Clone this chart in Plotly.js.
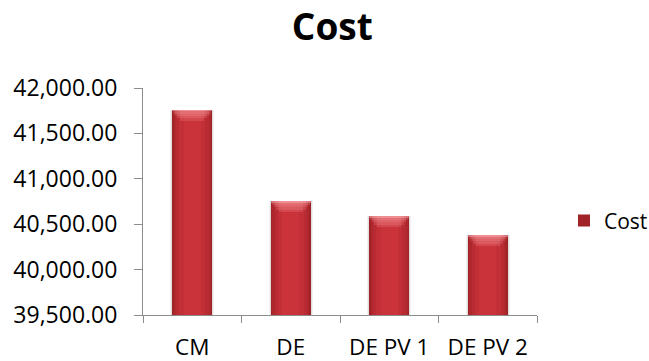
<!DOCTYPE html>
<html>
<head>
<meta charset="utf-8">
<script src="https://cdn.plot.ly/plotly-3.0.1.min.js"></script>
<style>
  html, body { margin: 0; padding: 0; background: #ffffff; }
  #chart { width: 649px; height: 361px; }
</style>
</head>
<body>
<div id="chart"></div>
<script>
// Cost per scenario
const categories = ['CM', 'DE', 'DE PV 1', 'DE PV 2'];
const costValues = [41760, 40755, 40590, 40380];
const seriesName = 'Cost';
const yTickValues = [39500, 40000, 40500, 41000, 41500, 42000];

function barLayer(width, color, opts) {
  return Object.assign({
    type: 'bar',
    x: categories,
    y: costValues,
    width: width,
    showlegend: false,
    marker: { color: color, line: { width: 0 } },
    hoverinfo: 'skip'
  }, opts || {});
}

const traces = [];

// Soft shadow around each column
traces.push(barLayer(0.45, 'rgba(0,0,0,0.06)'));
traces.push(barLayer(0.43, 'rgba(0,0,0,0.07)'));

// Cylinder-style shading: narrowing layers, dark edges to brighter core
const shadeWidths = [0.41, 0.38, 0.33, 0.26, 0.17];
const shadeColors = ['#A02328', '#AD272D', '#B92B32', '#C32F36', '#CB333A'];
shadeWidths.forEach((w, i) => {
  traces.push(barLayer(w, shadeColors[i], i === 0 ? { name: seriesName, showlegend: true } : {}));
});

// Glossy cap: translucent strips that narrow with depth below the top
const capLayers = [
  { depth: 120, width: 0.24, color: 'rgba(240,140,145,0.25)' },
  { depth: 95, width: 0.30, color: 'rgba(240,140,145,0.25)' },
  { depth: 70, width: 0.35, color: 'rgba(240,140,145,0.25)' },
  { depth: 45, width: 0.39, color: 'rgba(240,140,145,0.25)' },
  { depth: 18, width: 0.41, color: 'rgba(250,185,188,0.45)' }
];
capLayers.forEach(c => {
  traces.push(barLayer(c.width, c.color, {
    y: costValues.map(() => c.depth),
    base: costValues.map(v => v - c.depth)
  }));
});

const layout = {
  width: 649,
  height: 361,
  paper_bgcolor: '#ffffff',
  plot_bgcolor: '#ffffff',
  barmode: 'overlay',
  font: { family: 'Open Sans, Noto Sans, sans-serif', color: '#000000', size: 23 },
  margin: { l: 143, r: 112, t: 88, b: 46 },
  title: {
    text: '<b>Cost</b>',
    font: { family: 'Open Sans, sans-serif', size: 37, color: '#000000' },
    x: 0.512, xanchor: 'center', xref: 'container',
    y: 0.925, yanchor: 'middle'
  },
  xaxis: {
    type: 'category',
    showgrid: false,
    showline: true,
    linecolor: '#8c8c8c',
    linewidth: 1,
    ticks: 'outside',
    tickson: 'boundaries',
    ticklen: 7,
    tickcolor: '#8c8c8c',
    tickfont: { size: 22.5 },
    ticklabelstandoff: 12,
    fixedrange: true
  },
  yaxis: {
    range: [39500, 42000],
    tickvals: yTickValues,
    tickformat: ',.2f',
    showgrid: false,
    zeroline: false,
    showline: true,
    linecolor: '#8c8c8c',
    linewidth: 1,
    ticks: 'outside',
    ticklen: 8,
    tickcolor: '#8c8c8c',
    tickfont: { size: 23 },
    ticklabelstandoff: 12,
    fixedrange: true
  },
  legend: {
    xref: 'container', yref: 'container',
    x: 0.869, xanchor: 'left',
    y: 0.388, yanchor: 'middle',
    font: { size: 21 },
    itemwidth: 30,
    bgcolor: 'rgba(0,0,0,0)'
  },
  bargap: 0
};

Plotly.newPlot('chart', traces, layout, { staticPlot: true, displayModeBar: false });
</script>
</body>
</html>
